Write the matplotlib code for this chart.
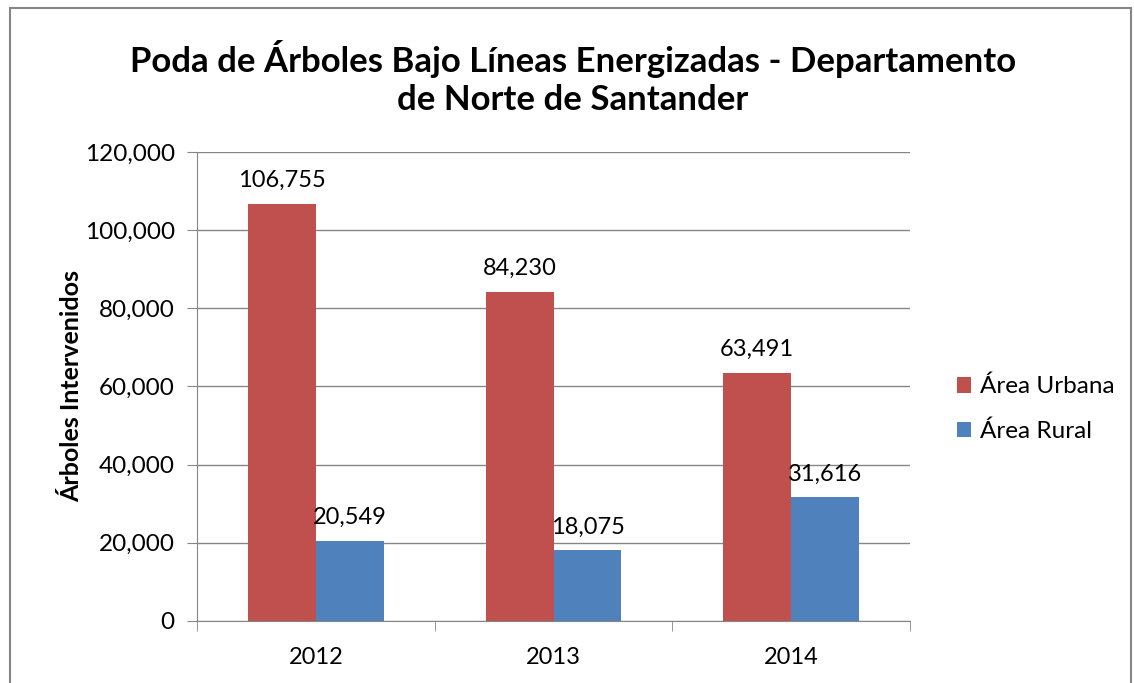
import matplotlib.pyplot as plt
import numpy as np
from matplotlib.patches import Rectangle
from matplotlib.ticker import FuncFormatter

years = ['2012', '2013', '2014']
urbana = [106755, 84230, 63491]
rural = [20549, 18075, 31616]

plt.rcParams['font.family'] = ['Lato', 'DejaVu Sans']

fig = plt.figure(figsize=(11.34, 6.83), dpi=100)
ax = fig.add_axes([0.1737, 0.0908, 0.6288, 0.6867])

x = np.arange(len(years))
w = 1 / 3.5
b1 = ax.bar(x - w / 2, urbana, w, color='#C0504D', label='Área Urbana', zorder=3)
b2 = ax.bar(x + w / 2, rural, w, color='#4F81BD', label='Área Rural', zorder=3)

for bars in (b1, b2):
    for r in bars:
        ax.annotate(f'{int(r.get_height()):,}', (r.get_x() + r.get_width() / 2, r.get_height()),
                    xytext=(0, 9), textcoords='offset points', ha='center', va='bottom',
                    fontsize=17, zorder=4)

ax.set_xlim(-0.5, 2.5)
ax.set_ylim(0, 120000)
ax.set_yticks(range(0, 120001, 20000))
ax.yaxis.set_major_formatter(FuncFormatter(lambda v, p: f'{int(v):,}'))
ax.set_xticks(x)
ax.set_xticklabels(years)
ax.set_xticks([-0.5, 0.5, 1.5, 2.5], minor=True)
ax.tick_params(axis='x', which='major', length=0, labelsize=17, pad=19)
ax.tick_params(axis='x', which='minor', length=7, color='#868686')
ax.tick_params(axis='y', length=7, color='#868686', labelsize=17.5, pad=9)
ax.grid(axis='y', color='#868686', linewidth=1, zorder=0)
for s in ('top', 'right'):
    ax.spines[s].set_visible(False)
for s in ('left', 'bottom'):
    ax.spines[s].set_color('#868686')
ax.set_ylabel('Árboles Intervenidos', fontsize=18, fontweight='bold', labelpad=1)

ax.legend(loc='center left', bbox_to_anchor=(1.035, 0.452), frameon=False, fontsize=17.5,
          handlelength=0.6, handleheight=0.6, handletextpad=0.35, labelspacing=0.95)

fig.text(0.505, 0.886, 'Poda de Árboles Bajo Líneas Energizadas - Departamento\nde Norte de Santander',
         ha='center', va='center', fontsize=25, fontweight='bold', linespacing=1.25)

fig.patches.append(Rectangle((10 / 1134, -0.1), 1121 / 1134, 1.1 - 8 / 683, transform=fig.transFigure,
                             fill=False, edgecolor='#868686', linewidth=1.5))

fig.savefig('out.png', dpi=100)
